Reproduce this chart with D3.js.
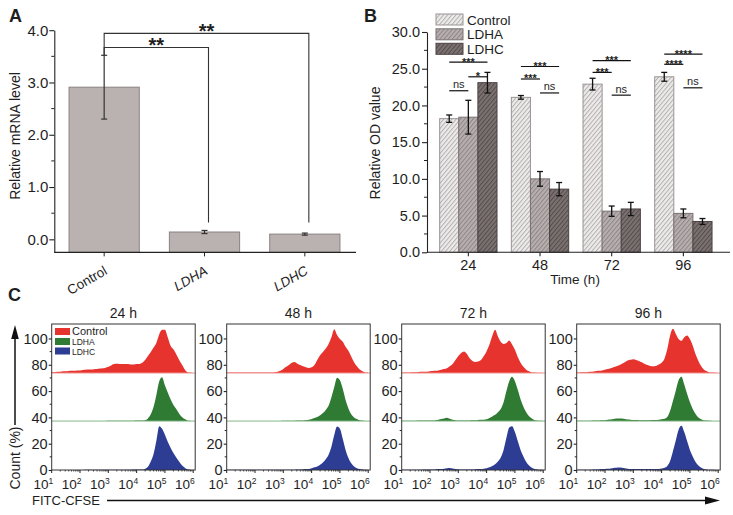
<!DOCTYPE html>
<html><head><meta charset="utf-8">
<script src="https://cdn.jsdelivr.net/npm/d3@7"></script>
<style>
body{margin:0;background:#fff}
svg{display:block}
text{font-family:Arial,"Liberation Sans",sans-serif;fill:#1e1e1e}
</style>
</head><body>
<svg id="c" width="733" height="515"></svg>
<script>
// ---------------- Panel A data ----------------
const aCategories = ["Control", "LDHA", "LDHC"];
const aItalic = [false, true, true];
const aValues = [2.91, 0.14, 0.10];
const aErrors = [0.61, 0.03, 0.02];
const aYTicks = [0, 1, 2, 3, 4];
const aYMinor = [0.5, 1.5, 2.5, 3.5];
const aSigTo = [2, 1];
const aSigY = [3.94, 3.67];
const aSigLabels = ["**", "**"];
const aSigBottom = 0.32;

// ---------------- Panel B data ----------------
const bTimes = ["24", "48", "72", "96"];
const bSeries = ["Control", "LDHA", "LDHC"];
const bControl = [18.2, 21.1, 22.9, 23.9];
const bLDHA = [18.4, 10.0, 5.6, 5.3];
const bLDHC = [23.1, 8.6, 5.9, 4.2];
const bControlErr = [0.5, 0.25, 0.8, 0.6];
const bLDHAErr = [2.3, 1.0, 0.7, 0.6];
const bLDHCErr = [1.4, 0.9, 0.9, 0.4];
const bYTicks = [0, 5, 10, 15, 20, 25, 30];
const bYMinor = [2.5, 7.5, 12.5, 17.5, 22.5, 27.5];
const bSigGroup = [0, 0, 0, 1, 1, 1, 2, 2, 2, 3, 3, 3];
const bSigFrom  = [0, 1, 0, 0, 0, 1, 0, 0, 1, 0, 0, 1];
const bSigTo    = [2, 2, 1, 2, 1, 2, 2, 1, 2, 2, 1, 2];
const bSigY     = [25.9, 23.9, 22.0, 25.3, 23.6, 21.7, 26.1, 24.5, 21.4, 27.0, 25.6, 22.4];
const bSigLabel = ["***", "*", "ns", "***", "***", "ns", "***", "***", "ns", "****", "****", "ns"];

// ---------------- Panel C data ----------------
const hTitles = ["24 h", "48 h", "72 h", "96 h"];
const hSeries = ["Control", "LDHA", "LDHC"];
const hYTicks = [0, 20, 40, 60, 80, 100];
const hYMinor = [10, 30, 50, 70, 90];
const hXTicks = [1, 2, 3, 4, 5, 6];
// log10 of fluorescence, bin centres
const hBins = [1.0,1.1,1.2,1.3,1.4,1.5,1.6,1.7,1.8,1.9,
               2.0,2.1,2.2,2.3,2.4,2.5,2.6,2.7,2.8,2.9,
               3.0,3.1,3.2,3.3,3.4,3.5,3.6,3.7,3.8,3.9,
               4.0,4.1,4.2,4.3,4.4,4.5,4.6,4.7,4.8,4.9,
               5.0,5.1,5.2,5.3,5.4,5.5,5.6,5.7,5.8,5.9,6.0];
// relative counts (% of modal peak)
const control24 = [2,2,3,3,4,4,4.5,5,5,6, 6,7,7.5,8,8,8.5,9,10,10.5,12, 14,17,20,21,20.5,20.5,20.5,20,19,19, 20,20.5,23,29,38,47,57,68,87,97, 97,80,61,53,42,30,19,8,2,1, 0];
const ldha24    = [0,0,0,0,0,0,0,0,0,0.2, 0.2,0.2,0.3,0.3,0.3,0.3,0.3,0.4,0.4,0.4, 0.5,0.5,0.5,0.6,0.6,0.7,0.7,0.8,0.8,0.9, 1,1,1.5,2,6,15,32,59,89,98, 80,64,49,36,27,17,9,4.5,1.5,0.5, 0];
const ldhc24    = [0,0,0,0,0,0,0,0,0,0.2, 0.2,0.2,0.3,0.3,0.3,0.3,0.3,0.4,0.4,0.4, 0.5,0.5,0.5,0.6,0.6,0.7,0.7,0.8,0.8,0.9, 1,1,1,3,7.5,19,36,66,98,92, 79,63,50,38,28,19,10.5,5,1.5,0.5, 0];
const control48 = [1.5,1.5,1.5,1.5,1.5,1.5,1.5,1.5,1.5,1.5, 1.5,1.5,1.5,1.5,1.5,1.5,1.5,2,3,5, 9,14,18,23,25,21,18,15,13,11.5, 13,18,29,40,47,55,65,80,98,85, 76,70,59,50,37,24,15,8,4,1.5, 1];
const ldha48    = [0.3,0.3,0.3,0.3,0.3,0.3,0.3,0.3,0.3,0.3, 0.4,0.4,0.4,0.4,0.4,0.4,0.4,0.4,0.4,0.4, 0.5,0.5,0.6,0.7,0.8,1,1,1.5,2,3, 4.5,7,9,13,18,25,34,53,76,97, 91,72,47,28,15,8,4.5,2,1,0.3, 0];
const ldhc48    = [0.3,0.3,0.3,0.3,0.3,0.3,0.3,0.3,0.3,0.3, 0.4,0.4,0.4,0.4,0.4,0.4,0.4,0.4,0.4,0.4, 0.5,0.5,0.6,0.7,0.8,1,1,1.5,2,2.5, 4,6,8,12,17,24,34,52,78,97, 92,70,45,27,15,8,4,2,1,0.3, 0];
const control72 = [1,1,1.5,1.5,2,2,2.5,3,3,3, 4,4.5,5,6,7.5,9,11,15,20,29, 38,45,48,43,33,27,25,26,29,38, 49,64,83,97,82,70,65,67,73,64, 52,36,23,14,7.5,4,1.5,1,0.5,0.5, 0.3];
const ldha72    = [0.5,0.5,0.5,0.5,0.5,0.5,1,1,1,1.5, 1.5,1.5,2,3,4.5,6,7.5,5,3,2, 1.5,1.5,1.5,1.5,1.5,2,2,2.5,3,3, 4,7,10.5,14,20,27,42,67,89,99, 89,70,49,32,20,11,6,2,1,0.5, 0];
const ldhc72    = [0.5,0.5,0.5,0.5,0.5,0.7,0.7,0.8,0.9,1, 1,1,1.5,2,2.5,3,4,4.5,3.5,2.5, 1.5,1,1,1,1,1,1.5,2,2.5,3, 4,6,9,13,19,28,45,72,95,98, 85,65,45,30,18,10,5,2,1,0.5, 0];
const control96 = [1.5,1.5,2,2,2.5,3,3.5,4.5,5,6, 7.5,9,11,13,15,17.5,21,24,28,30, 31,29,27,24,20.5,18,16,15,16,19, 23,32,53,84,99,88,76,72,80,84, 76,61,42,27,15,7.5,4,1.5,1,0.5, 0.3];
const ldha96    = [0.7,0.7,0.7,0.7,0.7,0.7,1,1,1.5,2, 2,3,3.5,4.5,5.5,6,5.5,4.5,3.5,3, 2.5,2.5,2,2,2,2,2,2.5,2.5,3, 4,5,9,23,45,68,91,99,82,61, 42,27,16,8,4,1.5,1,0.5,0.3,0, 0];
const ldhc96    = [0.7,0.7,0.7,0.7,0.7,0.7,1,1,1.5,2, 2.5,3,3.5,4.5,5,5.5,5,4,3,2.5, 2,2,2,2,2,2,2,2,2,2.5, 3.5,5,9,20,42,66,90,99,85,65, 45,30,18,10,5,2,1,0.5,0.3,0, 0];
const hControl = [control24, control48, control72, control96];
const hLDHA = [ldha24, ldha48, ldha72, ldha96];
const hLDHC = [ldhc24, ldhc48, ldhc72, ldhc96];

// ======================================================
const svg = d3.select("#c");
const INK = "#222";
function styleAxis(g, fs) {
  g.attr("font-family", 'Arial, "Liberation Sans", sans-serif').attr("font-size", fs);
  g.selectAll("path,line").attr("stroke", INK).attr("stroke-width", 1.1);
  g.selectAll("text").attr("fill", "#1e1e1e");
}

// ---------------- Panel A ----------------
const gA = svg.append("g");
const xA = d3.scaleBand().domain(aCategories).range([54, 355]).paddingInner(0.3).paddingOuter(0.15);
const yA = d3.scaleLinear().domain([-0.25, 4]).range([252.4, 30.2]);
gA.selectAll("rect").data(aCategories).join("rect")
  .attr("x", d => xA(d)).attr("width", xA.bandwidth())
  .attr("y", (d, i) => yA(aValues[i]))
  .attr("height", (d, i) => yA(-0.25) - yA(aValues[i]))
  .attr("fill", "#bab2b0").attr("stroke", "#8a8281").attr("stroke-width", 1);
aCategories.forEach((c, i) => {
  const cx = xA(c) + xA.bandwidth() / 2;
  const lo = yA(aValues[i] - aErrors[i]), hi = yA(aValues[i] + aErrors[i]);
  gA.append("line").attr("x1", cx).attr("x2", cx).attr("y1", lo).attr("y2", hi).attr("stroke", "#333").attr("stroke-width", 1.2);
  [lo, hi].forEach(y => gA.append("line").attr("x1", cx - 3).attr("x2", cx + 3).attr("y1", y).attr("y2", y).attr("stroke", "#333").attr("stroke-width", 1.2));
});
// significance brackets
const aC0 = xA(aCategories[0]) + xA.bandwidth() / 2;
aSigTo.forEach((t, k) => {
  const cx = xA(aCategories[t]) + xA.bandwidth() / 2 + 4;
  const y = yA(aSigY[k]);
  gA.append("path").attr("fill", "none").attr("stroke", "#333").attr("stroke-width", 1.1)
    .attr("d", `M${aC0},${yA(aValues[0] + aErrors[0])}V${y}H${cx}V${yA(aSigBottom)}`);
  gA.append("text").attr("x", (aC0 + cx) / 2).attr("y", y + 5).attr("text-anchor", "middle")
    .attr("font-size", 20).attr("font-weight", "bold").text(aSigLabels[k]);
});
// axes
const axAY = gA.append("g").attr("transform", "translate(54.3,0)")
  .call(d3.axisLeft(yA).tickValues(aYTicks).tickFormat(d3.format(".1f")).tickSize(5).tickPadding(1).tickSizeOuter(0));
styleAxis(axAY, 15);
axAY.selectAll(".minor").data(aYMinor).join("line").attr("class", "minor")
  .attr("x1", -3).attr("x2", 0).attr("y1", d => yA(d)).attr("y2", d => yA(d)).attr("stroke", INK);
gA.append("line").attr("x1", 54.3).attr("x2", 356).attr("y1", yA(-0.25)).attr("y2", yA(-0.25)).attr("stroke", INK).attr("stroke-width", 1.1);
aCategories.forEach((c, i) => {
  const cx = xA(c) + xA.bandwidth() / 2;
  gA.append("line").attr("x1", cx).attr("x2", cx).attr("y1", yA(-0.25)).attr("y2", yA(-0.25) + 4).attr("stroke", INK);
  gA.append("text").attr("transform", `translate(${cx + 4},${yA(-0.25) + 21}) rotate(-30)`)
    .attr("text-anchor", "end").attr("font-size", 13.5).attr("font-style", aItalic[i] ? "italic" : "normal").text(c);
});
gA.append("text").attr("transform", "translate(20,136) rotate(-90)").attr("text-anchor", "middle")
  .attr("font-size", 14).text("Relative mRNA level");
svg.append("text").attr("x", 9).attr("y", 22).attr("font-size", 18).attr("font-weight", "bold").text("A");

// ---------------- Panel B ----------------
const gB = svg.append("g");
const defs = svg.append("defs");
const patBg = ["#eceaea", "#b7afaf", "#7b7171"];
const patFg = ["#b0aaaa", "#8a8282", "#4f4747"];
const barStroke = ["#9a9494", "#7a7272", "#4a4242"];
bSeries.forEach((s, i) => {
  const p = defs.append("pattern").attr("id", "hatch" + i).attr("patternUnits", "userSpaceOnUse")
    .attr("width", 3.2).attr("height", 3.2).attr("patternTransform", "rotate(40)");
  p.append("rect").attr("width", 3.2).attr("height", 3.2).attr("fill", patBg[i]);
  p.append("line").attr("x1", 0.5).attr("x2", 0.5).attr("y1", 0).attr("y2", 3.2).attr("stroke", patFg[i]).attr("stroke-width", 0.9);
});
const xB = d3.scaleBand().domain(bTimes).range([432.5, 719.2]).paddingInner(0.2).paddingOuter(0.1);
const xBs = d3.scaleBand().domain(bSeries).range([0, xB.bandwidth()]);
const yB = d3.scaleLinear().domain([0, 30]).range([252.3, 32]);
const bVals = [bControl, bLDHA, bLDHC];
const bErrs = [bControlErr, bLDHAErr, bLDHCErr];
bSeries.forEach((s, si) => {
  gB.selectAll(".bar" + si).data(bTimes).join("rect").attr("class", "bar" + si)
    .attr("x", d => xB(d) + xBs(s)).attr("width", xBs.bandwidth())
    .attr("y", (d, i) => yB(bVals[si][i])).attr("height", (d, i) => yB(0) - yB(bVals[si][i]))
    .attr("fill", `url(#hatch${si})`).attr("stroke", barStroke[si]).attr("stroke-width", 1);
});
bSeries.forEach((s, si) => {
  bTimes.forEach((t, i) => {
    const cx = xB(t) + xBs(s) + xBs.bandwidth() / 2;
    const lo = yB(bVals[si][i] - bErrs[si][i]), hi = yB(bVals[si][i] + bErrs[si][i]);
    gB.append("line").attr("x1", cx).attr("x2", cx).attr("y1", lo).attr("y2", hi).attr("stroke", "#111").attr("stroke-width", 1.3);
    [lo, hi].forEach(y => gB.append("line").attr("x1", cx - 3).attr("x2", cx + 3).attr("y1", y).attr("y2", y).attr("stroke", "#111").attr("stroke-width", 1.3));
  });
});
// significance
bSigGroup.forEach((g, k) => {
  const t = bTimes[g];
  const x1 = xB(t) + xBs(bSeries[bSigFrom[k]]) + xBs.bandwidth() / 2;
  const x2 = xB(t) + xBs(bSeries[bSigTo[k]]) + xBs.bandwidth() / 2;
  const y = yB(bSigY[k]);
  gB.append("line").attr("x1", x1).attr("x2", x2).attr("y1", y).attr("y2", y).attr("stroke", "#111").attr("stroke-width", 1.2);
  const isNs = bSigLabel[k] === "ns";
  gB.append("text").attr("x", (x1 + x2) / 2).attr("y", isNs ? y - 2.5 : y + 3.5).attr("text-anchor", "middle")
    .attr("font-size", 11).attr("font-weight", isNs ? "normal" : "bold").text(bSigLabel[k]);
});
// axes
const axBY = gB.append("g").attr("transform", "translate(427,0)")
  .call(d3.axisLeft(yB).tickValues(bYTicks).tickFormat(d3.format(".1f")).tickSize(5).tickPadding(2).tickSizeOuter(0));
styleAxis(axBY, 14.5);
axBY.selectAll(".minor").data(bYMinor).join("line").attr("class", "minor")
  .attr("x1", -3).attr("x2", 0).attr("y1", d => yB(d)).attr("y2", d => yB(d)).attr("stroke", INK);
gB.append("line").attr("x1", 427).attr("x2", 730).attr("y1", yB(0)).attr("y2", yB(0)).attr("stroke", INK).attr("stroke-width", 1.1);
const axBX = gB.append("g").attr("transform", `translate(0,${yB(0)})`)
  .call(d3.axisBottom(xB).tickSize(4).tickPadding(3));
axBX.select(".domain").remove();
styleAxis(axBX, 14.5);
gB.append("text").attr("x", 575).attr("y", 284).attr("text-anchor", "middle").attr("font-size", 13.5).text("Time (h)");
gB.append("text").attr("transform", "translate(380,143) rotate(-90)").attr("text-anchor", "middle")
  .attr("font-size", 14).text("Relative OD value");
// legend
const legY = [14, 28.8, 43.3];
bSeries.forEach((s, i) => {
  gB.append("rect").attr("x", 436).attr("y", legY[i]).attr("width", 27).attr("height", 11)
    .attr("fill", `url(#hatch${i})`).attr("stroke", barStroke[i]);
  gB.append("text").attr("x", 467).attr("y", legY[i] + 10.5).attr("font-size", 13.5).text(s);
});
svg.append("text").attr("x", 364).attr("y", 22).attr("font-size", 18).attr("font-weight", "bold").text("B");

// ---------------- Panel C ----------------
const gC = svg.append("g");
const hColors = ["#e7332e", "#2f7b33", "#2e3d94"];
const hBaseColors = ["#f19a96", "#86b888", "#2e3d94"];
const hOffsets = [73.7, 37.2, 0];
const hLefts = [51.7, 226.7, 401.7, 576.7];
const hW = 143.5;
const yH = d3.scaleLinear().domain([0, 111]).range([470, 324]);
const hH = d3.scaleLinear().domain([0, 100]).range([0, 34]);
const hData = [hControl, hLDHA, hLDHC];
hTitles.forEach((title, p) => {
  const L = hLefts[p];
  const xH = d3.scaleLog().domain([10, Math.pow(10, 6.07)]).range([L, L + hW]);
  const g = gC.append("g");
  hSeries.forEach((s, si) => {
    const vals = hData[si][p];
    const off = hOffsets[si];
    const area = d3.area()
      .x((d, i) => xH(Math.pow(10, hBins[i])))
      .y0(yH(off))
      .y1((d, i) => yH(off + hH(vals[i])))
      .curve(d3.curveMonotoneX);
    g.append("path").datum(vals).attr("d", area).attr("fill", hColors[si]);
    if (si < 2) g.append("line").attr("x1", L).attr("x2", L + hW).attr("y1", yH(off)).attr("y2", yH(off))
      .attr("stroke", hBaseColors[si]).attr("stroke-width", 1);
  });
  g.append("rect").attr("x", L).attr("y", yH(111)).attr("width", hW).attr("height", yH(0) - yH(111))
    .attr("fill", "none").attr("stroke", "#333").attr("stroke-width", 1);
  // y axis
  const ay = g.append("g").attr("transform", `translate(${L},0)`)
    .call(d3.axisLeft(yH).tickValues(hYTicks).tickSize(3).tickPadding(1).tickSizeOuter(0));
  ay.select(".domain").remove();
  styleAxis(ay, 14.5);
  ay.selectAll(".minor").data(hYMinor).join("line").attr("class", "minor")
    .attr("x1", -2).attr("x2", 0).attr("y1", d => yH(d)).attr("y2", d => yH(d)).attr("stroke", INK);
  // x axis ticks
  const minor = [];
  hXTicks.forEach(e => { if (e < 6) for (let m = 2; m <= 9; m++) minor.push(m * Math.pow(10, e)); });
  g.selectAll(".xmin").data(minor).join("line").attr("class", "xmin")
    .attr("x1", d => xH(d)).attr("x2", d => xH(d)).attr("y1", yH(0)).attr("y2", yH(0) + 1.5).attr("stroke", INK).attr("stroke-width", 0.8);
  hXTicks.forEach(e => {
    const x = xH(Math.pow(10, e));
    g.append("line").attr("x1", x).attr("x2", x).attr("y1", yH(0)).attr("y2", yH(0) + 3).attr("stroke", INK);
    const t = g.append("text").attr("x", x + 1.5).attr("y", 489).attr("text-anchor", "end").attr("font-size", 13.5);
    t.append("tspan").text("10");
    t.append("tspan").attr("dy", -5.5).attr("font-size", 8.5).text(String(e));
  });
  g.append("text").attr("x", L + hW / 2).attr("y", 318).attr("text-anchor", "middle").attr("font-size", 14).text(title);
});
// legend in first histogram
const hLegY = [328, 338, 347.5];
const hLegFs = [11, 8.5, 8.5];
hSeries.forEach((s, i) => {
  gC.append("rect").attr("x", 55).attr("y", hLegY[i]).attr("width", 15).attr("height", 7).attr("fill", hColors[i]);
  gC.append("text").attr("x", 72).attr("y", hLegY[i] + 7).attr("font-size", hLegFs[i]).text(s);
});
// axis arrows
gC.append("line").attr("x1", 15).attr("x2", 15).attr("y1", 425).attr("y2", 336).attr("stroke", "#111").attr("stroke-width", 1.5);
gC.append("path").attr("d", "M15,325L11.2,339L18.8,339Z").attr("fill", "#111");
gC.append("text").attr("transform", "translate(20,458) rotate(-90)").attr("text-anchor", "middle").attr("font-size", 14).text("Count (%)");
gC.append("text").attr("x", 32).attr("y", 505).attr("font-size", 13).text("FITC-CFSE");
gC.append("line").attr("x1", 107).attr("x2", 708).attr("y1", 500.5).attr("y2", 500.5).attr("stroke", "#111").attr("stroke-width", 1.5);
gC.append("path").attr("d", "M720,500.5L705,496.5L705,504.5Z").attr("fill", "#111");
svg.append("text").attr("x", 8).attr("y", 301).attr("font-size", 18).attr("font-weight", "bold").text("C");
</script>
</body></html>
